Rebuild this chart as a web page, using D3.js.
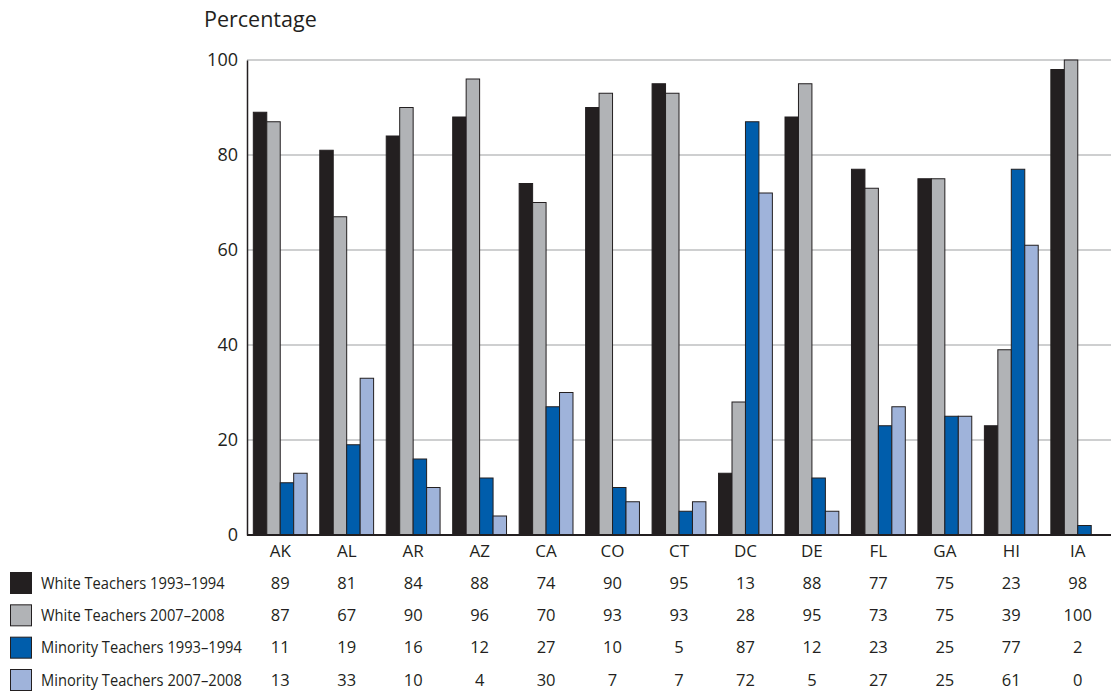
<!DOCTYPE html>
<html>
<head>
<meta charset="utf-8">
<script src="https://cdn.jsdelivr.net/npm/d3@7"></script>
<style>
  body { margin: 0; background: #fff; }
  text { fill: #231f20; }
  .num { font-family: "Open Sans", "Liberation Sans", sans-serif; }
</style>
</head>
<body>
<div id="chart"></div>
<script>
// states along the x axis
const states = ["AK", "AL", "AR", "AZ", "CA", "CO", "CT", "DC", "DE", "FL", "GA", "HI", "IA"];

// series
const seriesNames = ["White Teachers 1993\u20131994", "White Teachers 2007\u20132008",
	"Minority Teachers 1993\u20131994", "Minority Teachers 2007\u20132008"];
const white9394 = [89, 81, 84, 88, 74, 90, 95, 13, 88, 77, 75, 23, 98];
const white0708 = [87, 67, 90, 96, 70, 93, 93, 28, 95, 73, 75, 39, 100];
const minority9394 = [11, 19, 16, 12, 27, 10, 5, 87, 12, 23, 25, 77, 2];
const minority0708 = [13, 33, 10, 4, 30, 7, 7, 72, 5, 27, 25, 61, 0];
const yTicks = [0, 20, 40, 60, 80, 100];

const seriesValues = [white9394, white0708, minority9394, minority0708];
const colors = ["#231f20", "#b1b3b6", "#005dab", "#9fb3da"];

const W = 1111, H = 698;
const margin = {top: 60, right: 0, bottom: 163, left: 247};
const width = W - margin.left - margin.right;
const height = H - margin.top - margin.bottom;

const svg = d3.select("#chart").append("svg")
	.attr("width", W)
	.attr("height", H);

const g = svg.append("g")
	.attr("transform", "translate(" + margin.left + "," + margin.top + ")");

// scales
const x = d3.scaleBand()
	.domain(states)
	.range([0, width])
	.paddingInner(0.19)
	.paddingOuter(0.095);

const x1 = d3.scaleBand()
	.domain(d3.range(seriesNames.length))
	.range([0, x.bandwidth()]);

const y = d3.scaleLinear()
	.domain([0, 100])
	.range([height, 0]);

// gridlines
g.append("g")
	.selectAll("line")
	.data(yTicks.filter(d => d > 0))
	.join("line")
	.attr("x1", 0)
	.attr("x2", width)
	.attr("y1", d => y(d))
	.attr("y2", d => y(d))
	.attr("stroke", "#9d9fa2")
	.attr("stroke-width", 1.2);

// y axis
const yAxis = d3.axisLeft(y).tickValues(yTicks).tickSize(0).tickPadding(9);
g.append("g")
	.call(yAxis)
	.call(a => a.select(".domain").attr("stroke", "#231f20").attr("stroke-width", 1.5))
	.selectAll("text")
	.attr("class", "num")
	.style("font-size", "18px")
	.attr("fill", "#231f20");

svg.append("text")
	.attr("class", "num")
	.attr("x", 204)
	.attr("y", 27)
	.style("font-size", "21.5px")
	.text("Percentage");

// bars
const groups = g.append("g")
	.selectAll("g")
	.data(states)
	.join("g")
	.attr("transform", d => "translate(" + x(d) + ",0)");

groups.selectAll("rect")
	.data((d, i) => seriesValues.map((s, k) => ({k: k, v: s[i]})))
	.join("rect")
	.filter(d => d.v > 0)
	.attr("x", d => x1(d.k))
	.attr("y", d => y(d.v))
	.attr("width", x1.bandwidth())
	.attr("height", d => height - y(d.v))
	.attr("fill", d => colors[d.k])
	.attr("stroke", "#231f20")
	.attr("stroke-width", 1);

// baseline
g.append("line")
	.attr("x1", 0)
	.attr("x2", width)
	.attr("y1", height)
	.attr("y2", height)
	.attr("stroke", "#231f20")
	.attr("stroke-width", 2);

// x axis labels
const xAxis = d3.axisBottom(x).tickSize(0).tickPadding(10);
g.append("g")
	.attr("transform", "translate(0," + height + ")")
	.call(xAxis)
	.call(a => a.select(".domain").remove())
	.selectAll("text")
	.attr("class", "num")
	.style("font-size", "17px")
	.attr("fill", "#231f20");

// data table with legend keys
const rowY = d3.scaleLinear().domain([0, 3]).range([583, 680]);

const rows = svg.append("g")
	.selectAll("g")
	.data(seriesNames)
	.join("g")
	.attr("transform", (d, i) => "translate(0," + rowY(i) + ")");

rows.append("rect")
	.attr("x", 10.5)
	.attr("y", -10.5)
	.attr("width", 21)
	.attr("height", 21)
	.attr("fill", (d, i) => colors[i])
	.attr("stroke", "#231f20")
	.attr("stroke-width", 1);

// labels are set in a narrow face in the original, so squeeze them
rows.append("text")
	.attr("class", "num")
	.attr("transform", "translate(41,0) scale(0.89,1)")
	.attr("dy", "0.35em")
	.style("font-size", "16.5px")
	.text(d => d);

rows.selectAll("text.val")
	.data((d, i) => seriesValues[i].map((v, j) => ({v: v, s: states[j]})))
	.join("text")
	.attr("class", "num val")
	.attr("x", d => margin.left + x(d.s) + x.bandwidth() / 2)
	.attr("dy", "0.35em")
	.attr("text-anchor", "middle")
	.style("font-size", "16.5px")
	.text(d => d.v);
</script>
</body>
</html>
